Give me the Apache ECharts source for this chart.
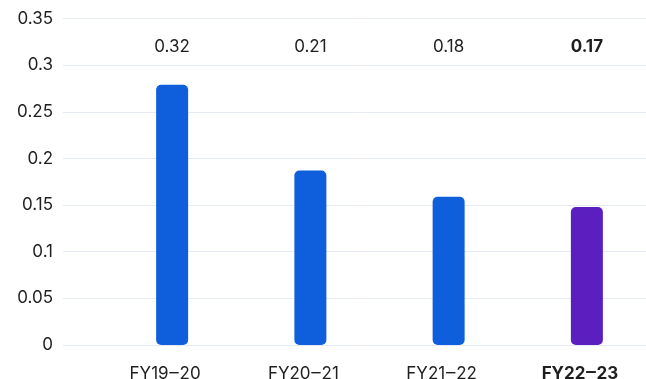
<!DOCTYPE html>
<html>
<head>
<meta charset="utf-8">
<script src="https://cdn.jsdelivr.net/npm/echarts@6/dist/echarts.min.js"></script>
<style>html,body{margin:0;padding:0;background:#fff}#c{width:646px;height:379px}</style>
</head>
<body>
<div id="c"></div>
<script>
const categories = ['FY19\u201220', 'FY20\u201221', 'FY21\u201222', 'FY22\u201223'];
const barValues = [0.279, 0.187, 0.159, 0.148];
const topLabels = ['0.32', '0.21', '0.18', '0.17'];
const labelRowValue = 0.32;
const highlightIndex = 3;

const FONT = 'Inter, "Noto Sans", sans-serif';
const TEXT = '#1f1f1f';
const BLUE = '#0F5FDC';
const PURPLE = '#5A1FBE';

const chart = echarts.init(document.getElementById('c'), null, {renderer: 'canvas'});
chart.setOption({
  animation: false,
  grid: [
    {left: 63, right: 0, top: 18.5, bottom: 34},
    {left: 103, width: 553, top: 18.5, bottom: 34, outerBoundsMode: 'none', containLabel: false}
  ],
  xAxis: [
    {gridIndex: 0, type: 'category', data: categories, show: false},
    {gridIndex: 1, type: 'category', data: categories,
     axisLine: {show: false}, axisTick: {show: false},
     axisLabel: {
       margin: 20, fontFamily: FONT, fontSize: 17, color: TEXT,
       padding: [0, 14, 0, 0],
       formatter: function (v, i) { return i === highlightIndex ? '{b|' + v + '}' : v; },
       rich: {b: {fontFamily: FONT, fontSize: 17, fontWeight: 'bold', color: TEXT}}
     }}
  ],
  yAxis: [
    {gridIndex: 0, type: 'value', min: 0, max: 0.35, interval: 0.05,
     axisLine: {show: false}, axisTick: {show: false},
     axisLabel: {margin: 10, fontFamily: FONT, fontSize: 17, color: TEXT,
       formatter: function (v) { return String(+v.toFixed(2)); }},
     splitLine: {lineStyle: {color: '#E6EAF4', width: 1}}},
    {gridIndex: 1, type: 'value', min: 0, max: 0.35, interval: 0.05, show: false,
     splitLine: {show: false}}
  ],
  series: [
    {
      type: 'bar', xAxisIndex: 1, yAxisIndex: 1, barWidth: 32,
      data: barValues.map((v, i) => ({
        value: v,
        itemStyle: {color: i === highlightIndex ? PURPLE : BLUE, borderRadius: 5}
      }))
    },
    {
      type: 'scatter', xAxisIndex: 1, yAxisIndex: 1, symbolSize: 0, silent: true,
      itemStyle: {opacity: 1},
      data: topLabels.map((t, i) => ({
        value: [categories[i], labelRowValue],
        label: {
          show: true, position: 'inside', formatter: t,
          fontFamily: FONT, fontSize: 17, color: TEXT, opacity: 1,
          fontWeight: i === highlightIndex ? 'bold' : 'normal'
        }
      }))
    }
  ]
});
</script>
</body>
</html>
